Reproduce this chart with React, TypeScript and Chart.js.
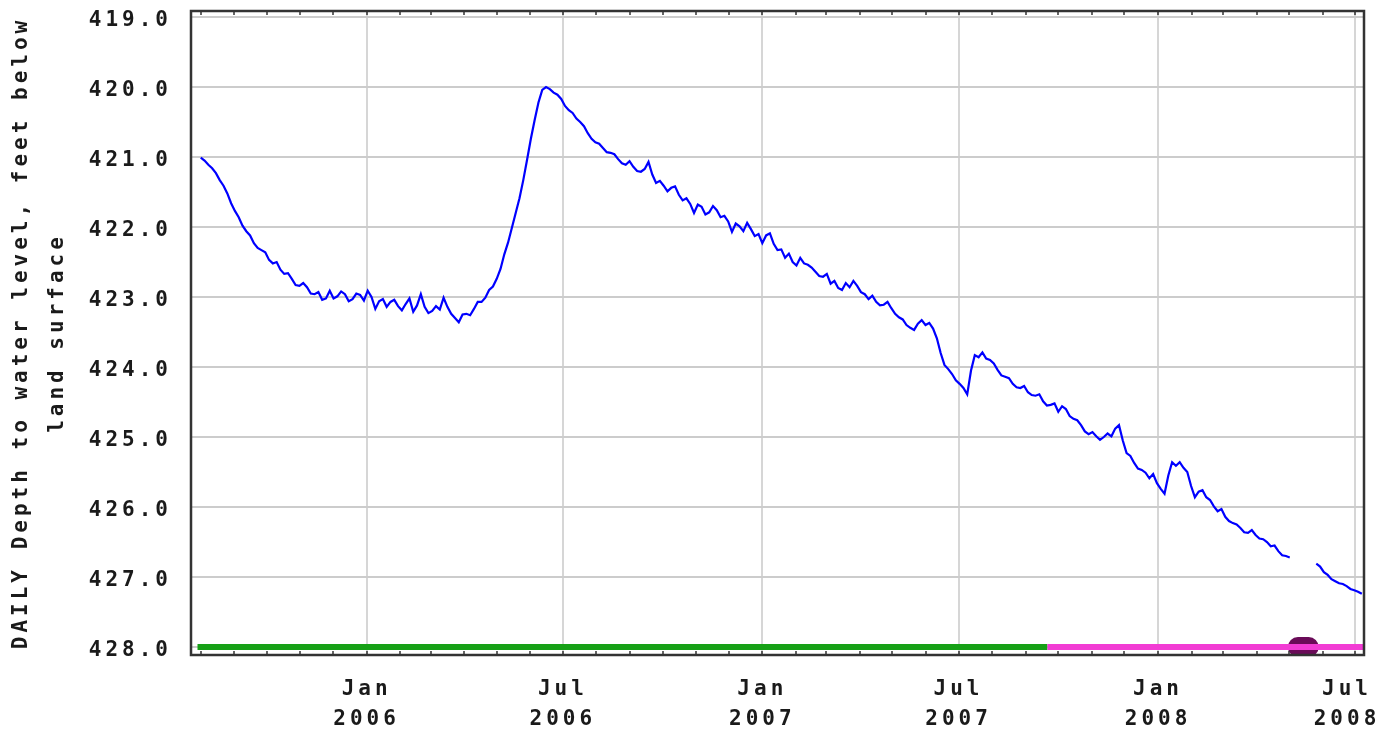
import React, { useEffect, useRef } from 'react';
import { Chart, registerables } from 'chart.js';

Chart.register(...registerables);

// ---- data ----
const seriesStart = '2005-08-01';
const seriesStepDays = 3.5;
const depths: (number | null)[] = [
  421.01, 421.05, 421.11, 421.16, 421.23, 421.33, 421.41, 421.52, 421.66, 421.77,
  421.86, 421.98, 422.06, 422.12, 422.23, 422.30, 422.33, 422.36, 422.47, 422.52,
  422.50, 422.61, 422.67, 422.66, 422.74, 422.83, 422.84, 422.80, 422.86, 422.95,
  422.96, 422.93, 423.04, 423.02, 422.91, 423.02, 422.99, 422.92, 422.96, 423.06,
  423.03, 422.95, 422.97, 423.05, 422.91, 423.00, 423.17, 423.06, 423.03, 423.14,
  423.07, 423.04, 423.13, 423.19, 423.10, 423.02, 423.21, 423.12, 422.96, 423.14,
  423.23, 423.20, 423.13, 423.18, 423.01, 423.14, 423.24, 423.30, 423.36, 423.25,
  423.24, 423.26, 423.17, 423.07, 423.07, 423.01, 422.90, 422.85, 422.74, 422.60,
  422.39, 422.22, 422.01, 421.80, 421.59, 421.33, 421.04, 420.74, 420.47, 420.22,
  420.04, 420.00, 420.03, 420.08, 420.11, 420.17, 420.27, 420.33, 420.37, 420.45,
  420.50, 420.56, 420.66, 420.74, 420.79, 420.81, 420.87, 420.93, 420.94, 420.96,
  421.03, 421.09, 421.11, 421.06, 421.14, 421.20, 421.21, 421.17, 421.07, 421.25,
  421.37, 421.34, 421.41, 421.49, 421.44, 421.42, 421.54, 421.62, 421.59, 421.67,
  421.80, 421.68, 421.71, 421.82, 421.79, 421.70, 421.76, 421.86, 421.84, 421.92,
  422.07, 421.95, 421.99, 422.06, 421.94, 422.03, 422.13, 422.10, 422.23, 422.12,
  422.09, 422.24, 422.33, 422.32, 422.44, 422.38, 422.50, 422.55, 422.44, 422.52,
  422.54, 422.58, 422.64, 422.70, 422.71, 422.67, 422.81, 422.77, 422.87, 422.90,
  422.80, 422.86, 422.77, 422.84, 422.93, 422.96, 423.03, 422.98, 423.07, 423.12,
  423.11, 423.07, 423.16, 423.24, 423.29, 423.32, 423.40, 423.44, 423.47, 423.38,
  423.33, 423.40, 423.37, 423.45, 423.59, 423.80, 423.97, 424.03, 424.10, 424.19,
  424.24, 424.30, 424.39, 424.05, 423.83, 423.86, 423.79, 423.88, 423.90, 423.95,
  424.04, 424.12, 424.14, 424.16, 424.24, 424.29, 424.30, 424.27, 424.36, 424.40,
  424.41, 424.39, 424.49, 424.55, 424.54, 424.52, 424.64, 424.56, 424.60, 424.70,
  424.74, 424.76, 424.83, 424.92, 424.96, 424.93, 424.99, 425.04, 425.00, 424.95,
  424.99, 424.88, 424.83, 425.05, 425.23, 425.27, 425.37, 425.45, 425.47, 425.51,
  425.59, 425.53, 425.66, 425.74, 425.81, 425.55, 425.36, 425.41, 425.36, 425.44,
  425.50, 425.70, 425.86, 425.78, 425.76, 425.86, 425.90, 425.99, 426.06, 426.03,
  426.14, 426.20, 426.23, 426.25, 426.30, 426.36, 426.37, 426.33, 426.40, 426.45,
  426.46, 426.50, 426.56, 426.55, 426.63, 426.69, 426.70, 426.72, null, null,
  null, null, null, null, 426.81, 426.85, 426.93, 426.97, 427.03, 427.06,
  427.09, 427.10, 427.13, 427.17, 427.19, 427.21, 427.24,
];

const yTickValues = [419, 420, 421, 422, 423, 424, 425, 426, 427, 428];
const yRange = [418.914, 428.114];
const xRangeDates = ['2005-07-23', '2008-07-09'];
const xTickDates = ['2006-01-01', '2006-07-01', '2007-01-01', '2007-07-01', '2008-01-01', '2008-07-01'];
const xTickMonths = ['Jan', 'Jul', 'Jan', 'Jul', 'Jan', 'Jul'];
const xTickYears = ['2006', '2006', '2007', '2007', '2008', '2008'];
const minorTickRange = ['2005-08-01', '2008-07-01'];

const statusLevel = 428.0;
const approvedPeriod = ['2005-07-29', '2007-09-21'];
const provisionalPeriod = ['2007-09-21', '2008-07-09'];
const markerPeriod = ['2008-05-09', '2008-05-19'];

const yTitle = ['DAILY Depth to water level, feet below', 'land surface'];

// ---- helpers ----
const EPOCH = Date.UTC(2006, 0, 1);
const dayOf = (s: string) => (Date.parse(s + 'T00:00:00Z') - EPOCH) / 86400000;

const monthStarts = (() => {
  const out: number[] = [];
  const a = new Date(minorTickRange[0] + 'T00:00:00Z');
  const end = Date.parse(minorTickRange[1] + 'T00:00:00Z');
  let y = a.getUTCFullYear();
  let m = a.getUTCMonth();
  while (Date.UTC(y, m, 1) <= end) {
    out.push((Date.UTC(y, m, 1) - EPOCH) / 86400000);
    m++;
    if (m > 11) { m = 0; y++; }
  }
  return out;
})();

const FONT_FAMILY = "'DejaVu Sans Mono', monospace";
const LETTER_SPACING = '4px';

const framePlugin = {
  id: 'frame',
  beforeUpdate(chart: any) { chart.ctx.letterSpacing = LETTER_SPACING; },
  beforeLayout(chart: any) { chart.ctx.letterSpacing = LETTER_SPACING; },
  beforeDraw(chart: any) {
    const ctx = chart.ctx;
    ctx.letterSpacing = LETTER_SPACING;
    ctx.save();
    ctx.fillStyle = '#ffffff';
    ctx.fillRect(0, 0, chart.width, chart.height);
    ctx.restore();
  },
  afterDatasetsDraw(chart: any) {
    const { ctx, chartArea } = chart;
    const { left, top, right, bottom } = chartArea;
    const xs = chart.scales.x;
    ctx.save();
    ctx.strokeStyle = '#333333';
    ctx.lineWidth = 1.5;
    ctx.beginPath();
    monthStarts.forEach((d) => {
      const px = Math.round(xs.getPixelForValue(d));
      ctx.moveTo(px, bottom);
      ctx.lineTo(px, bottom - 4);
      ctx.moveTo(px, top);
      ctx.lineTo(px, top + 4);
    });
    ctx.stroke();
    ctx.lineWidth = 2.5;
    ctx.strokeRect(left, top, right - left, bottom - top);
    ctx.restore();
  },
};

export default function App() {
  const canvasRef = useRef<HTMLCanvasElement | null>(null);

  useEffect(() => {
    const canvas = canvasRef.current;
    if (!canvas) return;

    const seriesStartDay = dayOf(seriesStart);
    const blueData = depths.map((v, i) => ({ x: seriesStartDay + i * seriesStepDays, y: v }));
    const xTickDays = xTickDates.map(dayOf);
    const lastTick = xTickDays.length - 1;

    const chart = new Chart(canvas, {
      type: 'line',
      data: {
        datasets: [
          {
            data: blueData as any,
            borderColor: '#0000ff',
            borderWidth: 2.2,
            pointRadius: 0,
            tension: 0,
            spanGaps: false,
          },
          {
            data: [
              { x: dayOf(provisionalPeriod[0]), y: statusLevel },
              { x: dayOf(provisionalPeriod[1]), y: statusLevel },
            ],
            borderColor: '#f23cd4',
            borderWidth: 6,
            pointRadius: 0,
          },
          {
            data: [
              { x: dayOf(markerPeriod[0]), y: statusLevel },
              { x: dayOf(markerPeriod[1]), y: statusLevel },
            ],
            borderColor: '#6a0b58',
            borderWidth: 20,
            borderCapStyle: 'round',
            pointRadius: 0,
          },
          {
            data: [
              { x: dayOf(approvedPeriod[0]), y: statusLevel },
              { x: dayOf(approvedPeriod[1]), y: statusLevel },
            ],
            borderColor: '#16a016',
            borderWidth: 6,
            pointRadius: 0,
          },
        ],
      },
      options: {
        animation: false,
        responsive: true,
        maintainAspectRatio: false,
        events: [],
        layout: { padding: { top: 11, right: 19, left: 0, bottom: 0 } },
        plugins: {
          legend: { display: false },
          tooltip: { enabled: false },
        },
        scales: {
          x: {
            type: 'linear',
            min: dayOf(xRangeDates[0]),
            max: dayOf(xRangeDates[1]),
            afterBuildTicks: (scale: any) => {
              scale.ticks = xTickDays.map((v) => ({ value: v }));
            },
            afterFit: (scale: any) => {
              scale.height = 78;
              scale.paddingLeft = 0;
              scale.paddingRight = 0;
            },
            ticks: {
              autoSkip: false,
              maxRotation: 0,
              minRotation: 0,
              padding: 20,
              color: '#1a1a1a',
              font: { family: FONT_FAMILY, size: 21, weight: 'bold', lineHeight: 30 / 21 },
              callback: (_v: any, i: number) =>
                i === lastTick ? [xTickMonths[i] + ' ', xTickYears[i] + ' '] : [xTickMonths[i], xTickYears[i]],
            },
            grid: { color: '#d6d6d6', lineWidth: 2, drawTicks: false },
            border: { display: false },
          },
          y: {
            type: 'linear',
            reverse: true,
            min: yRange[0],
            max: yRange[1],
            afterBuildTicks: (scale: any) => {
              scale.ticks = yTickValues.map((v) => ({ value: v }));
            },
            afterFit: (scale: any) => {
              scale.width = 191;
              scale.paddingTop = 0;
              scale.paddingBottom = 0;
            },
            ticks: {
              padding: 19,
              labelOffset: 4,
              color: '#1a1a1a',
              font: { family: FONT_FAMILY, size: 21, weight: 'bold', lineHeight: 30 / 21 },
              callback: (v: any) => Number(v).toFixed(1),
            },
            grid: { color: '#cccccc', lineWidth: 2, drawTicks: false },
            border: { display: false },
            title: {
              display: true,
              text: yTitle,
              color: '#1a1a1a',
              padding: { top: 4, bottom: 0 },
              font: { family: FONT_FAMILY, size: 21, weight: 'bold', lineHeight: 36 / 21 },
            },
          },
        },
      } as any,
      plugins: [framePlugin],
    });

    return () => chart.destroy();
  }, []);

  return (
    <div style={{ position: 'fixed', left: 0, top: 0, width: 1383, height: 733, background: '#fff' }}>
      <canvas ref={canvasRef} />
    </div>
  );
}
